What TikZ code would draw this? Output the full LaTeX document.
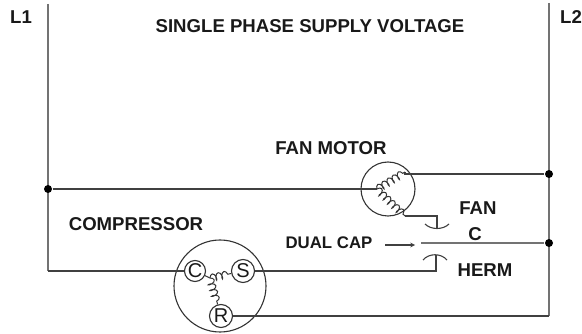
\documentclass[tikz,border=0pt]{standalone}
\usepackage{fontspec}
\setmainfont{Liberation Sans}
\usetikzlibrary{decorations.pathmorphing}

\begin{document}
\begin{tikzpicture}[x=1pt,y=-1pt,line width=1.1pt,wire/.style={draw=black!75},
                    rail/.style={draw=black!55,line width=1.8pt},
                    every node/.style={font=\fontsize{18.6}{20}\selectfont\bfseries,text=black!90}]
  \tikzstyle{housing}=[circle,draw=black!80,inner sep=0pt]
  \tikzstyle{terminal}=[housing,minimum size=23pt,font=\fontsize{20}{21}\selectfont]
  \tikzstyle{junction}=[circle,fill=black,inner sep=0pt,minimum size=8pt]
  \tikzstyle{winding}=[draw=black!80,line width=1pt,decorate,
                       decoration={coil,aspect=0.45,segment length=6pt,amplitude=3.5pt}]
  \useasboundingbox (0,0) rectangle (582,334);

  \node[housing,minimum size=54pt] (motor) at (388,189) {};
  \node[housing,minimum size=92pt] (comp) at (220,286) {};
  \node[terminal,minimum size=21pt] (c) at (195,271) {C};
  \node[terminal] (s) at (243,271) {S};
  \node[terminal] (r) at (221,316) {R};

  \coordinate (l1top) at (48,4);
  \coordinate (l1bot) at (48,271);
  \coordinate (l2top) at (549,3);
  \coordinate (l2bot) at (549,316);
  \coordinate (mstar) at (377,189);
  \coordinate (mrun) at (405,172);
  \coordinate (mcap) at (405,216);
  \coordinate (cstar) at (210,278);
  \coordinate (fanstem) at (437,229);
  \coordinate (hermstem) at (436,255);
  \coordinate (plate) at (421,243);
  \coordinate (arrowtail) at (385,245);
  \coordinate (arrowtip) at (415,245);

  % supply rails
  \draw[rail] (l1top) -- (l1bot);
  \draw[rail] (l2top) -- (l2bot);

  \node[junction] (d1) at (48,189) {};
  \node[junction] (d2) at (549,174) {};
  \node[junction] (d3) at (549,243) {};

  \node (l1) at (21,17) {L1};
  \node (l2) at (571,17) {L2};
  \node (supply) at (310,26) {SINGLE PHASE SUPPLY VOLTAGE};
  \node (fanmotor) at (331,148) {FAN MOTOR};
  \node (compressor) at (136,224) {COMPRESSOR};
  \node[font=\fontsize{16.8}{20}\selectfont\bfseries] (dualcap) at (329,243) {DUAL CAP};
  \node (fan) at (478,208) {FAN};
  \node (capc) at (475,234) {C};
  \node (herm) at (485,270) {HERM};

  \draw[wire] (l1bot) -- (c);
  \draw[wire] (l2bot) -- (r);
  \draw[wire] (d1) -- (mstar);
  \draw[wire] (mrun) |- (d2);

  % windings
  \draw[winding] (mstar) -- (mrun);
  \draw[winding] (mstar) -- (mcap);
  \draw[winding] (cstar) -- (s);
  \draw[winding] (cstar) -- (r);
  \draw[wire] (c) -- (cstar);

  % dual cap
  \draw[wire] (mcap) -| (fanstem);
  \draw[wire] (425,224) .. controls (431,230) and (443,230) .. (449,224);
  \draw[wire] (s) -| (hermstem);
  \draw[wire] (423,260) .. controls (429,253) and (441,253) .. (447,260);
  \draw[rail] (plate) -- (d3);
  \draw[wire,-stealth] (arrowtail) -- (arrowtip);
\end{tikzpicture}
\end{document}
